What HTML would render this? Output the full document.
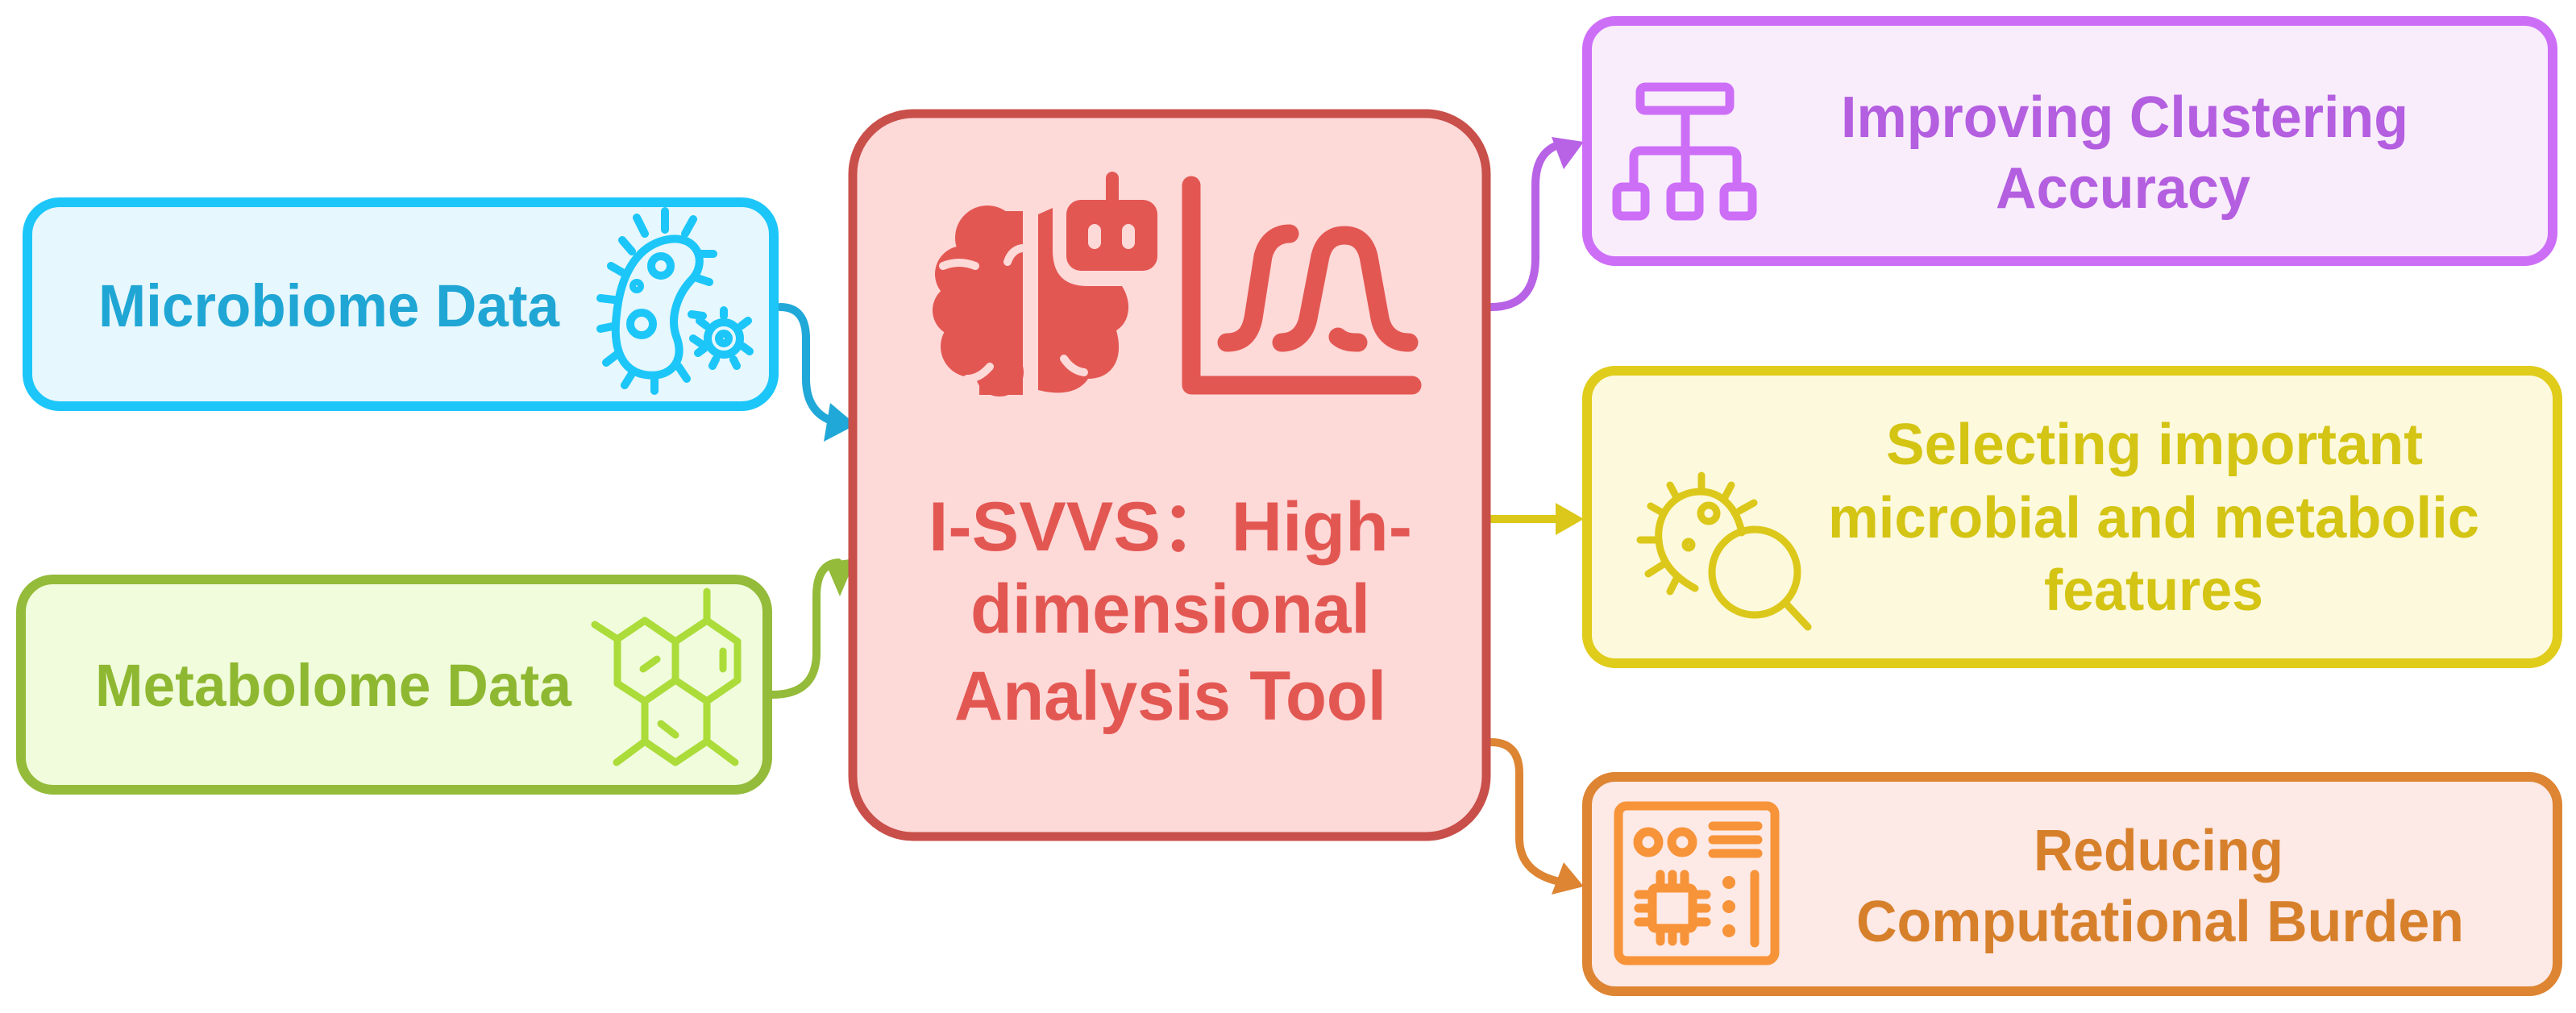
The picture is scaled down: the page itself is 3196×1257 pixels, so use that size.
<!DOCTYPE html>
<html><head><meta charset="utf-8"><style>
html,body{margin:0;padding:0;background:#fff;}
svg{display:block;}
text{font-family:"Liberation Sans",sans-serif;font-weight:bold;}
</style></head><body>
<svg width="3196" height="1257" viewBox="0 0 3196 1257" xmlns="http://www.w3.org/2000/svg">
<defs>
<marker id="ab" markerWidth="6" markerHeight="6" refX="4" refY="3" orient="auto" markerUnits="strokeWidth"><path d="M0,0 L5,3 L0,6 Z" fill="#20a8d8"/></marker>
</defs>

<!-- connectors -->
<g fill="none" stroke-width="10" stroke-linecap="round">
  <path d="M968,381 Q1000,381 1000,420 L1000,470 Q1000,515 1040,525" stroke="#20a8d8"/>
  <path d="M958,862 Q1013,862 1013,810 L1013,740 Q1013,700 1040,698" stroke="#94bb3a"/>
  <path d="M1850,381 Q1905,381 1905,320 L1905,230 Q1905,185 1940,178" stroke="#b862e6"/>
  <path d="M1850,644 L1935,644" stroke="#dcc81a"/>
  <path d="M1850,921 Q1885,921 1885,960 L1885,1040 Q1885,1085 1940,1095" stroke="#dd8533"/>
</g>
<polygon points="1062,527 1030,500 1022,548" fill="#20a8d8"/>
<polygon points="1062,693 1024,698 1042,740" fill="#94bb3a"/>
<polygon points="1965,176 1925,170 1940,210" fill="#b862e6"/>
<polygon points="1965,644 1930,624 1930,664" fill="#dcc81a"/>
<polygon points="1965,1100 1940,1070 1925,1110" fill="#dd8533"/>

<!-- Microbiome box -->
<rect x="34" y="251" width="926" height="253" rx="40" fill="#e6f7fd" stroke="#1cc6f8" stroke-width="12"/>
<text x="122" y="405" font-size="74" fill="#1fa6d4" textLength="572" lengthAdjust="spacingAndGlyphs">Microbiome Data</text>
<g fill="none" stroke="#1cc6f8" stroke-width="10" stroke-linecap="round">
  <path d="M818,300 C860,285 880,320 860,345 C840,365 830,395 840,420 C850,450 830,470 800,465 C770,460 760,430 765,390 C770,340 790,310 818,300 Z"/>
  <circle cx="820" cy="330" r="12"/>
  <circle cx="796" cy="402" r="14"/>
  <circle cx="790" cy="355" r="4"/>
  <path d="M800,290 L790,270 M825,285 L825,262 M850,290 L860,272 M867,315 L885,315 M865,345 L880,350 M858,390 L872,392 M860,420 L875,430 M842,455 L852,470 M812,468 L812,485 M785,462 L775,478 M765,440 L752,450 M760,405 L745,408 M762,372 L745,370 M772,338 L758,330 M784,312 L772,298"/>
  <circle cx="898" cy="420" r="20"/>
  <circle cx="898" cy="420" r="6"/>
  <path d="M898,392 L898,385 M920,404 L928,398 M922,430 L930,436 M876,404 L868,398 M874,432 L866,438 M888,446 L884,454 M910,446 L914,454"/>
</g>

<!-- Metabolome box -->
<rect x="26" y="719" width="926" height="261" rx="40" fill="#f1fcdc" stroke="#94bb3a" stroke-width="12"/>
<text x="118" y="876" font-size="74" fill="#8fb832" textLength="591" lengthAdjust="spacingAndGlyphs">Metabolome Data</text>
<g fill="none" stroke="#abdc3a" stroke-width="9" stroke-linecap="round" stroke-linejoin="round">
  <path d="M766,793 L800,770 L838,796 L838,844 L800,870 L766,848 Z"/>
  <path d="M838,796 L877,770 L915,796 L915,844 L877,870 L838,844"/>
  <path d="M800,870 L800,920 L838,946 L877,920 L877,870"/>
  <path d="M877,770 L877,734 M766,793 L738,775 M800,920 L765,946 M877,920 L912,946"/>
  <path d="M798,830 L815,818 M897,808 L897,830 M820,898 L838,912"/>
</g>

<!-- Center box -->
<rect x="1058" y="141" width="786" height="897" rx="75" fill="#fdd9d8" stroke="#c94f4a" stroke-width="11"/>
<g fill="#e35752">
  <!-- left hemisphere -->
  <circle cx="1225" cy="295" r="40"/>
  <circle cx="1195" cy="340" r="35"/>
  <circle cx="1190" cy="385" r="33"/>
  <circle cx="1205" cy="430" r="38"/>
  <circle cx="1240" cy="462" r="30"/>
  <rect x="1215" y="262" width="54" height="228"/>
  <rect x="1180" y="320" width="60" height="120"/>
  <!-- right hemisphere -->
  <path d="M1288,266 L1306,258 L1306,310 C1306,345 1325,355 1350,355 L1392,355 C1405,375 1402,400 1385,410 C1395,445 1380,470 1350,470 C1340,485 1320,492 1288,484 Z"/>
  <!-- robot head -->
  <rect x="1323" y="248" width="113" height="88" rx="18"/>
  <rect x="1372" y="213" width="16" height="45" rx="8"/>
</g>
<g fill="#fdd9d8">
  <rect x="1350" y="278" width="16" height="31" rx="8"/>
  <rect x="1392" y="278" width="16" height="31" rx="8"/>
  <path d="M1210,330 Q1190,322 1170,330" stroke="#fdd9d8" stroke-width="10" fill="none" stroke-linecap="round"/>
  <path d="M1228,455 Q1215,470 1200,470" stroke="#fdd9d8" stroke-width="10" fill="none" stroke-linecap="round"/>
  <path d="M1320,445 Q1330,460 1345,462" stroke="#fdd9d8" stroke-width="10" fill="none" stroke-linecap="round"/>
  <path d="M1250,325 Q1255,310 1268,308" stroke="#fdd9d8" stroke-width="10" fill="none" stroke-linecap="round"/>
</g>
<g fill="none" stroke="#e35752" stroke-width="23" stroke-linecap="round" stroke-linejoin="round">
  <path d="M1478,230 L1478,478 L1752,478"/>
  <path d="M1522,425 C1545,425 1552,410 1555,395 L1567,318 C1572,298 1585,290 1600,290"/>
  <path d="M1590,425 C1610,425 1620,410 1623,395 L1638,318 C1643,298 1655,292 1668,292 C1681,292 1693,298 1698,318 L1712,395 C1715,410 1725,425 1748,425"/>
  <path d="M1660,418 C1668,425 1678,425 1685,425"/>
</g>
<g font-size="86" fill="#e35752" text-anchor="middle">
  <text x="1452" y="683" textLength="600" lengthAdjust="spacingAndGlyphs">I-SVVS：High-</text>
  <text x="1452" y="785" textLength="496" lengthAdjust="spacingAndGlyphs">dimensional</text>
  <text x="1452" y="893" textLength="536" lengthAdjust="spacingAndGlyphs">Analysis Tool</text>
</g>

<!-- Purple box -->
<rect x="1969" y="26" width="1198" height="298" rx="35" fill="#f9edfc" stroke="#cd6ef7" stroke-width="12"/>
<g fill="none" stroke="#cd6ef7" stroke-width="11" stroke-linejoin="round">
  <rect x="2035" y="108" width="111" height="29" rx="6"/>
  <path d="M2091,137 L2091,232 M2027,232 L2027,196 Q2027,187 2036,187 L2146,187 Q2155,187 2155,196 L2155,232"/>
  <rect x="2006" y="232" width="35" height="36" rx="7"/>
  <rect x="2073" y="232" width="35" height="36" rx="7"/>
  <rect x="2139" y="232" width="35" height="36" rx="7"/>
</g>
<g font-size="72" fill="#b45ee0" text-anchor="middle">
  <text x="2636" y="170" textLength="704" lengthAdjust="spacingAndGlyphs">Improving Clustering</text>
  <text x="2634" y="258" textLength="316" lengthAdjust="spacingAndGlyphs">Accuracy</text>
</g>

<!-- Yellow box -->
<rect x="1969" y="460" width="1204" height="363" rx="35" fill="#fdf9dc" stroke="#e0cc1a" stroke-width="12"/>
<g fill="none" stroke="#dcc81a" stroke-width="9" stroke-linecap="round">
  <path d="M2161,661 C2155,630 2135,610 2110,610 C2075,610 2055,640 2058,670 C2060,695 2075,715 2103,730"/>
  <circle cx="2120" cy="637" r="10"/>
  <circle cx="2095" cy="676" r="4"/>
  <circle cx="2177" cy="710" r="53"/>
  <path d="M2215,748 L2243,778"/>
  <path d="M2111,610 L2111,590 M2080,617 L2072,602 M2140,617 L2148,602 M2158,634 L2176,624 M2064,637 L2048,628 M2058,670 L2035,670 M2064,700 L2045,712 M2080,718 L2072,734"/>
</g>
<g font-size="72" fill="#d4c413" text-anchor="middle">
  <text x="2673" y="576" textLength="666" lengthAdjust="spacingAndGlyphs">Selecting important</text>
  <text x="2672" y="667" textLength="808" lengthAdjust="spacingAndGlyphs">microbial and metabolic</text>
  <text x="2672" y="757" textLength="272" lengthAdjust="spacingAndGlyphs">features</text>
</g>

<!-- Orange box -->
<rect x="1969" y="964" width="1204" height="266" rx="35" fill="#fde9e5" stroke="#dd8533" stroke-width="12"/>
<g fill="none" stroke="#f79338" stroke-width="11" stroke-linecap="round">
  <rect x="2008" y="1000" width="194" height="192" rx="10"/>
  <circle cx="2045" cy="1045" r="13"/>
  <circle cx="2087" cy="1045" r="13"/>
  <path d="M2125,1025 L2181,1025 M2125,1042 L2181,1042 M2125,1059 L2181,1059"/>
  <rect x="2050" y="1102" width="50" height="50" rx="4"/>
  <path d="M2060,1102 L2060,1085 M2075,1102 L2075,1085 M2090,1102 L2090,1085 M2060,1152 L2060,1168 M2075,1152 L2075,1168 M2090,1152 L2090,1168 M2050,1110 L2033,1110 M2050,1127 L2033,1127 M2050,1144 L2033,1144 M2100,1110 L2117,1110 M2100,1127 L2117,1127 M2100,1144 L2117,1144"/>
  <path d="M2177,1085 L2177,1170"/>
</g>
<g fill="#f79338"><circle cx="2145" cy="1095" r="8"/><circle cx="2145" cy="1125" r="8"/><circle cx="2145" cy="1155" r="8"/></g>
<g font-size="72" fill="#d7802c" text-anchor="middle">
  <text x="2678" y="1080" textLength="310" lengthAdjust="spacingAndGlyphs">Reducing</text>
  <text x="2680" y="1168" textLength="754" lengthAdjust="spacingAndGlyphs">Computational Burden</text>
</g>
</svg>
</body></html>
